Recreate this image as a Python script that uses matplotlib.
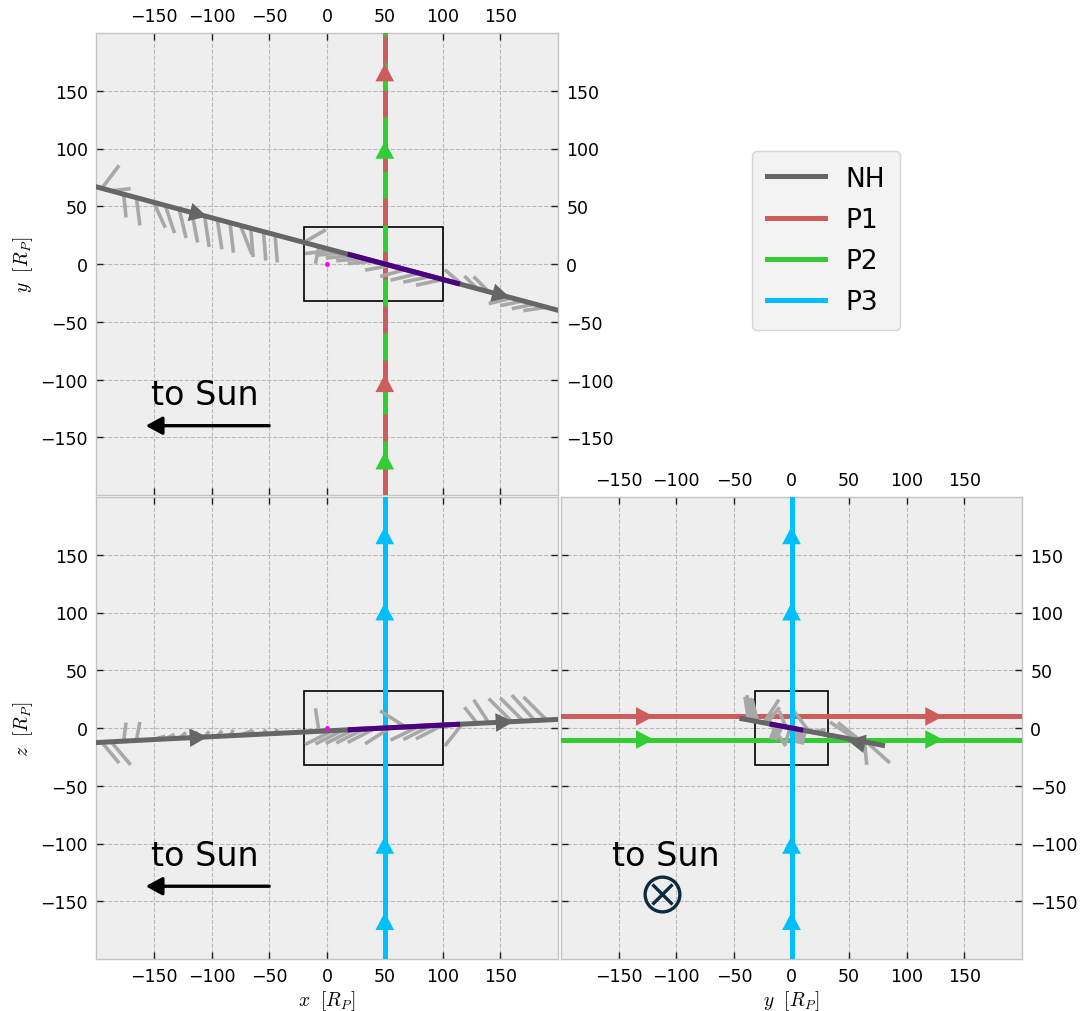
import numpy as np
import matplotlib
matplotlib.use("Agg")
import matplotlib.pyplot as plt
from matplotlib.lines import Line2D
from matplotlib.patches import Rectangle

plt.rcParams['font.family'] = ['DejaVu Sans']
plt.rcParams['mathtext.fontset'] = 'cm'

# ---------------- data ----------------
ticks = [-150, -100, -50, 0, 50, 100, 150]
lim = [-200, 200]

# New Horizons trajectory (x, y, z) in R_P
nh_x = [-245, -150, -50, 50, 150, 211]
nh_y = [79, 53.4, 26.7, 0.0, -26.7, -43]
nh_z = [-15, -10, -5, 0.0, 5, 8]

# highlighted (purple) segment
seg_x = [20, 113]
seg_y = [8.0, -16.8]
seg_z = [-1.5, 3.2]

# magnetic field barbs: base point on trajectory and vector
barb_x0 = [-195, -187, -176, -165, -150, -140, -128, -117, -106, -95, -84, -75, -66, -55, -45,
           -20, -7, 5, 14, 23, 32, 41, 55, 68, 80, 90, 100, 117, 130, 140, 160, 170, 180, 190]
barb_y0 = [65.4, 63.3, 60.3, 57.4, 53.4, 50.7, 47.5, 44.6, 41.7, 38.7, 35.8, 33.4, 31.0, 28.0, 25.4,
           18.7, 15.2, 12.0, 9.6, 7.2, 4.8, 2.4, -1.3, -4.8, -8.0, -10.7, -13.4, -17.9, -21.4, -24.0,
           -29.4, -32.0, -34.7, -37.4]
barb_z0 = [-12.3, -11.9, -11.3, -10.8, -10.0, -9.5, -8.9, -8.4, -7.8, -7.3, -6.7, -6.3, -5.8, -5.3, -4.8,
           -3.5, -2.9, -2.3, -1.8, -1.4, -0.9, -0.5, 0.3, 0.9, 1.5, 2.0, 2.5, 3.4, 4.0, 4.5,
           5.5, 6.0, 6.5, 7.0]
barb_bx = [15, 17, 2, 3, 10, 8, 6, 5, 4, 4, 3, 10, 2, 2, 2,
           19, -3, -24, -24, -24, -24, -23, -22, -22, -25, -24, -23, -15, -11, -13,
           -20, -20, -20, -20]
barb_by = [20, 2, -20, -24, -22, -24, -25, -26, -27, -26, -26, -25, -25, -25, -24,
           11, -15, -3, -2, -2, -2, -2, -4, -6, -6, -5, -5, 13, 11, 13,
           -5, -4, -4, -3]
barb_bz = [-18, -20, 16, 16, 3, 4, 5, 5, 5, 5, 5, 4, 4, 4, 4,
           2, 20, -12, -12, -12, -12, -12, -14, 14, -12, -12, -12, -19, 14, 20,
           20, 20, 22, 20]

# probe trajectories
p_coord = [-200, 200]
p1_x, p1_z = 50, 10
p2_x, p2_z = 50, -10
p3_x, p3_y = 50, 0

# arrow locations (centres)
nh_arrow_xy = [(-110, 42.7), (152, -27.2)]
nh_arrow_xz = [(-110, -8.0), (155, 5.2)]
nh_arrow_yz = [(55, -12.0)]
p1_arrows_y = [167, -102]
p2_arrows_y = [100, -169]
p3_arrows_z = [168, 102, -100, -166]
p12_arrows_yz = [-126, 125]

box_lo, box_hi = -20, 100
box_half = 32

names = ['NH', 'P1', 'P2', 'P3']
colors = {'NH': '#666666', 'P1': '#cd5c5c', 'P2': '#32cd32', 'P3': '#00bfff'}
barb_color = '#a8a8a8'
seg_color = '#4b0082'

# ---------------- figure ----------------
fig = plt.figure(figsize=(10.88, 10.12), dpi=100)
W, H = 1088, 1012
def axes_px(l, t, r, b):
    return fig.add_axes([l / W, 1 - b / H, (r - l) / W, (b - t) / H])

ax_xy = axes_px(96, 34, 558, 496)
ax_xz = axes_px(96, 498, 558, 960)
ax_yz = axes_px(561, 498, 1022, 960)

LW = 3.6

def style(ax):
    ax.set_facecolor('#eeeeee')
    ax.set_xlim(lim)
    ax.set_ylim(lim)
    ax.set_xticks(ticks)
    ax.set_yticks(ticks)
    ax.grid(True, ls='--', color='#b8b8b8', lw=0.8)
    ax.set_axisbelow(True)
    for s in ax.spines.values():
        s.set_color('#c4c4c4')
        s.set_linewidth(1.0)
    ax.tick_params(direction='in', length=5, width=1.0, color='#222222',
                   top=True, right=True, labelsize=12.5, pad=6)

ARROW_HALF = 6.5   # half head length in data units

def arrow(ax, x, y, dx, dy, color, ms=16):
    n = np.hypot(dx, dy)
    ux, uy = dx / n, dy / n
    tx, ty = x + ux * ARROW_HALF, y + uy * ARROW_HALF
    ax.annotate('', xy=(tx, ty), xytext=(tx - ux * 1e-3, ty - uy * 1e-3),
                arrowprops=dict(arrowstyle='-|>,head_length=0.8,head_width=0.42',
                                color=color, lw=0, shrinkA=0, shrinkB=0,
                                mutation_scale=ms), zorder=6)

def barbs(ax, X0, Y0, BX, BY):
    for x0, y0, bx, by in zip(X0, Y0, BX, BY):
        ax.plot([x0, x0 + bx], [y0, y0 + by], color=barb_color, lw=2.6,
                solid_capstyle='butt', zorder=4)

def sun_arrow(ax, y_text, y_arrow):
    ax.text(-152, y_text, 'to Sun', fontsize=24, ha='left', va='baseline', zorder=8)
    ax.annotate('', xy=(-157, y_arrow), xytext=(-50, y_arrow),
                arrowprops=dict(arrowstyle='-|>,head_length=0.55,head_width=0.3',
                                color='black', lw=2.4, mutation_scale=18,
                                shrinkA=0, shrinkB=0), zorder=8)

for ax in (ax_xy, ax_xz, ax_yz):
    style(ax)

# ---- x-y plane ----
ax = ax_xy
ax.add_patch(Rectangle((box_lo, -box_half), box_hi - box_lo, 2 * box_half,
                       fill=False, ec='black', lw=1.2, zorder=2))
ax.plot([p1_x, p1_x], p_coord, color=colors['P1'], lw=LW, zorder=3)
ax.plot([p2_x, p2_x], p_coord, color=colors['P2'], lw=LW,
        linestyle=(5.4, (5.4, 5.4)), zorder=3)
for yy in p1_arrows_y:
    arrow(ax, p1_x, yy, 0, 1, colors['P1'])
for yy in p2_arrows_y:
    arrow(ax, p2_x, yy, 0, 1, colors['P2'])
barbs(ax, barb_x0, barb_y0, barb_bx, barb_by)
ax.plot(nh_x, nh_y, color=colors['NH'], lw=LW, zorder=5)
ax.plot(seg_x, seg_y, color=seg_color, lw=LW, zorder=6)
for (xx, yy) in nh_arrow_xy:
    arrow(ax, xx, yy, 1, -0.267, colors['NH'])
ax.plot([0], [0], 'o', color='magenta', ms=2.5, zorder=7)
sun_arrow(ax, -121, -140)
ax.tick_params(labeltop=True, labelbottom=False, labelleft=True, labelright=True)
ax.set_ylabel(r'$y\ \ [R_P]$', fontsize=14, labelpad=4)

# ---- x-z plane ----
ax = ax_xz
ax.add_patch(Rectangle((box_lo, -box_half), box_hi - box_lo, 2 * box_half,
                       fill=False, ec='black', lw=1.2, zorder=2))
ax.plot([p3_x, p3_x], p_coord, color=colors['P3'], lw=LW, zorder=3)
for zz in p3_arrows_z:
    arrow(ax, p3_x, zz, 0, 1, colors['P3'])
barbs(ax, barb_x0, barb_z0, barb_bx, barb_bz)
ax.plot(nh_x, nh_z, color=colors['NH'], lw=LW, zorder=5)
ax.plot(seg_x, seg_z, color=seg_color, lw=LW, zorder=6)
for (xx, zz) in nh_arrow_xz:
    arrow(ax, xx, zz, 1, 0.05, colors['NH'])
ax.plot([0], [0], 'o', color='magenta', ms=2.5, zorder=7)
sun_arrow(ax, -119, -137)
ax.tick_params(labeltop=False, labelbottom=True, labelleft=True, labelright=False)
ax.set_xlabel(r'$x\ \ [R_P]$', fontsize=14, labelpad=2)
ax.set_ylabel(r'$z\ \ [R_P]$', fontsize=14, labelpad=4)

# ---- y-z plane ----
ax = ax_yz
ax.add_patch(Rectangle((-box_half, -box_half), 2 * box_half, 2 * box_half,
                       fill=False, ec='black', lw=1.2, zorder=2))
ax.plot(p_coord, [p1_z, p1_z], color=colors['P1'], lw=LW, zorder=3)
ax.plot(p_coord, [p2_z, p2_z], color=colors['P2'], lw=LW, zorder=3)
for yy in p12_arrows_yz:
    arrow(ax, yy, p1_z, 1, 0, colors['P1'])
    arrow(ax, yy, p2_z, 1, 0, colors['P2'])
barbs(ax, barb_y0, barb_z0, barb_by, barb_bz)
ax.plot([p3_y, p3_y], p_coord, color=colors['P3'], lw=LW, zorder=5)
for zz in p3_arrows_z:
    arrow(ax, p3_y, zz, 0, 1, colors['P3'])
ax.plot(nh_y, nh_z, color=colors['NH'], lw=LW, zorder=5)
ax.plot(seg_y, seg_z, color=seg_color, lw=LW, zorder=6)
for (yy, zz) in nh_arrow_yz:
    arrow(ax, yy, zz, -1, 0.19, colors['NH'])
ax.text(-156, -119, 'to Sun', fontsize=24, ha='left', va='baseline', zorder=8)
ax.plot([-112], [-144], 'o', ms=25, mfc='none', mec='#0d2b3e', mew=2.4, zorder=8)
ax.plot([-112], [-144], 'x', ms=15, mec='#0d2b3e', mew=2.4, zorder=8)
ax.tick_params(labeltop=True, labelbottom=True, labelleft=False, labelright=True)
ax.set_xlabel(r'$y\ \ [R_P]$', fontsize=14, labelpad=2)

# ---- legend ----
handles = [Line2D([0], [0], color=colors[n], lw=LW) for n in names]
leg = fig.legend(handles, names, loc='upper left', bbox_to_anchor=(752 / W, 1 - 152 / H),
                 fontsize=19, handlelength=2.2, handletextpad=0.8, labelspacing=0.58,
                 borderpad=0.55, frameon=True, fancybox=True, borderaxespad=0)
leg.get_frame().set_facecolor('#f0f0f0')
leg.get_frame().set_edgecolor('#cccccc')

fig.savefig('out.png', dpi=100)
